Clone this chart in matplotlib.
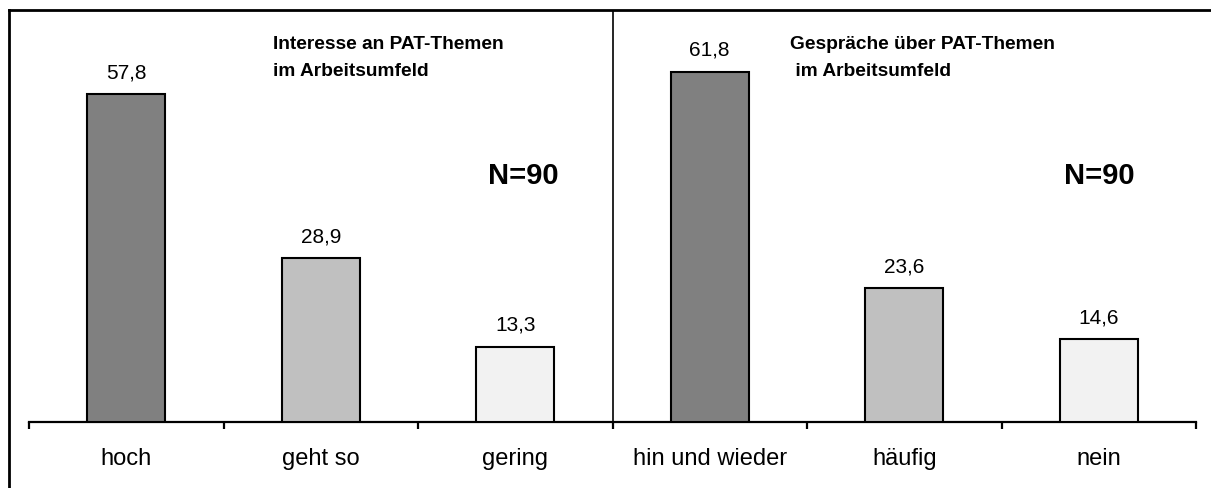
import matplotlib.pyplot as plt
from matplotlib.lines import Line2D

plt.rcParams["font.family"] = ["Liberation Sans", "DejaVu Sans"]

CATEGORIES = ["hoch", "geht so", "gering", "hin und wieder", "häufig", "nein"]
VALUES = [57.8, 28.9, 13.3, 61.8, 23.6, 14.6]
VALUE_LABELS = ["57,8", "28,9", "13,3", "61,8", "23,6", "14,6"]
BAR_COLORS = ["#808080", "#c0c0c0", "#f2f2f2", "#808080", "#c0c0c0", "#f2f2f2"]
PANEL_TITLES = ["Interesse an PAT-Themen\nim Arbeitsumfeld",
                "Gespräche über PAT-Themen\n im Arbeitsumfeld"]
N_LABEL = "N=90"

W, H = 1211, 488
# pixel layout of the plot area
X0, X1 = 29, 1196
Y_BASE, Y_TOP = 422, 10
PX_PER_UNIT = 5.67

fig = plt.figure(figsize=(W / 100, H / 100), dpi=100)
ax = fig.add_axes([X0 / W, (H - Y_BASE) / H, (X1 - X0) / W, (Y_BASE - Y_TOP) / H])

ax.set_xlim(0, len(CATEGORIES))
ax.set_ylim(0, (Y_BASE - Y_TOP) / PX_PER_UNIT)

centers = [i + 0.5 for i in range(len(CATEGORIES))]
ax.bar(centers, VALUES, width=0.40, color=BAR_COLORS, edgecolor="black", linewidth=1.5, zorder=3)

for x, v, lab in zip(centers, VALUES, VALUE_LABELS):
    ax.annotate(lab, (x, v), xytext=(0, 8.5), textcoords="offset points",
                ha="center", va="bottom", fontsize=15)

# divider between the two panels
ax.axvline(3, color="black", linewidth=1.2)

for s in ["top", "right", "left"]:
    ax.spines[s].set_visible(False)
ax.spines["bottom"].set_linewidth(1.6)

ax.set_xticks(range(len(CATEGORIES) + 1))
ax.set_xticklabels([])
ax.tick_params(axis="x", which="major", direction="out", length=5, width=1.6)
ax.set_xticks(centers, minor=True)
ax.set_xticklabels(CATEGORIES, minor=True, fontsize=17)
ax.tick_params(axis="x", which="minor", length=0, pad=19)
ax.set_yticks([])


def px_to_data(px, py):
    return (px - X0) / ((X1 - X0) / len(CATEGORIES)), (Y_BASE - py) / PX_PER_UNIT


for (px, py), title in zip([(273, 36), (790, 36)], PANEL_TITLES):
    x, y = px_to_data(px, py)
    ax.text(x, y, title, ha="left", va="top", fontsize=13.8, fontweight="bold", linespacing=1.8)

for px in [523, 1099]:
    x, y = px_to_data(px, 176)
    ax.text(x, y, N_LABEL, ha="center", va="center", fontsize=21, fontweight="bold")

# outer frame (cropped at right and bottom)
fig.add_artist(Line2D([9 / W, 1], [1 - 10 / H, 1 - 10 / H], color="black", linewidth=2))
fig.add_artist(Line2D([9 / W, 9 / W], [0, 1 - 10 / H], color="black", linewidth=2))

fig.savefig("out.png", dpi=100)
